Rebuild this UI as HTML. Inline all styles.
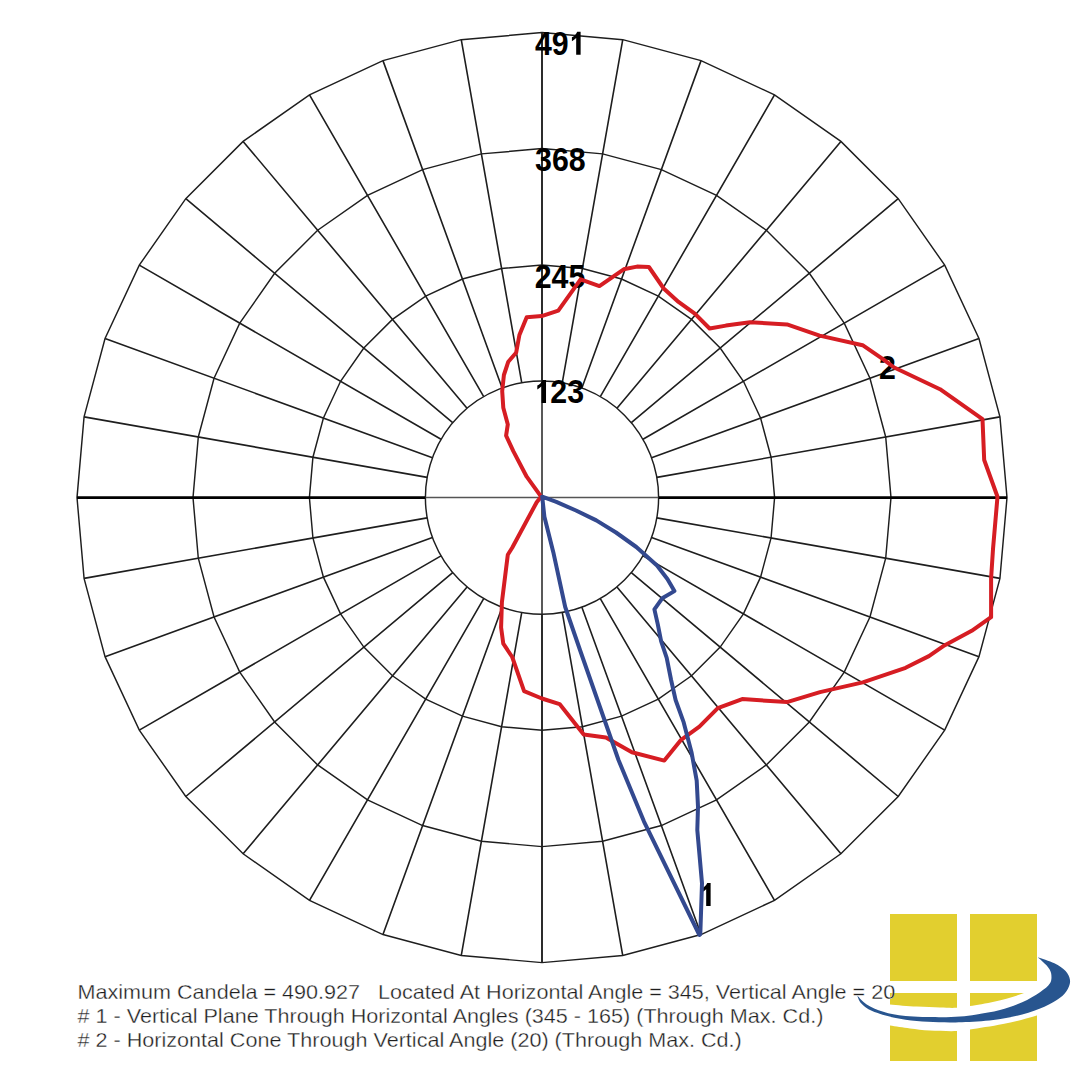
<!DOCTYPE html>
<html><head><meta charset="utf-8"><style>
html,body{margin:0;padding:0;background:#fff;width:1080px;height:1080px;overflow:hidden}
svg{display:block}
</style></head><body>
<svg width="1080" height="1080" viewBox="0 0 1080 1080"><rect width="1080" height="1080" fill="#fff"/><path d="M656.83 477.35L999.94 416.85M651.57 457.72L978.96 338.56M642.98 439.30L944.70 265.10M631.32 422.65L898.21 198.70M616.95 408.28L840.90 141.39M600.30 396.62L774.50 94.90M581.88 388.03L701.04 60.64M562.25 382.77L622.75 39.66M542.00 381.00L542.00 32.60M521.75 382.77L461.25 39.66M502.12 388.03L382.96 60.64M483.70 396.62L309.50 94.90M467.05 408.28L243.10 141.39M452.68 422.65L185.79 198.70M441.02 439.30L139.30 265.10M432.43 457.72L105.04 338.56M427.17 477.35L84.06 416.85M427.17 517.85L84.06 578.35M432.43 537.48L105.04 656.64M441.02 555.90L139.30 730.10M452.68 572.55L185.79 796.50M467.05 586.92L243.10 853.81M483.70 598.58L309.50 900.30M502.12 607.17L382.96 934.56M521.75 612.43L461.25 955.54M542.00 614.20L542.00 962.60M562.25 612.43L622.75 955.54M581.88 607.17L701.04 934.56M600.30 598.58L774.50 900.30M616.95 586.92L840.90 853.81M631.32 572.55L898.21 796.50M642.98 555.90L944.70 730.10M651.57 537.48L978.96 656.64M656.83 517.85L999.94 578.35" stroke="#1e1e1e" stroke-width="1.6" fill="none"/><circle cx="542.0" cy="497.6" r="116.6" stroke="#1e1e1e" stroke-width="1.45" fill="none"/><polygon points="774.60,497.60 771.07,457.21 760.57,418.05 743.44,381.30 720.18,348.09 691.51,319.42 658.30,296.16 621.55,279.03 582.39,268.53 542.00,265.00 501.61,268.53 462.45,279.03 425.70,296.16 392.49,319.42 363.82,348.09 340.56,381.30 323.43,418.05 312.93,457.21 309.40,497.60 312.93,537.99 323.43,577.15 340.56,613.90 363.82,647.11 392.49,675.78 425.70,699.04 462.45,716.17 501.61,726.67 542.00,730.20 582.39,726.67 621.55,716.17 658.30,699.04 691.51,675.78 720.18,647.11 743.44,613.90 760.57,577.15 771.07,537.99" stroke="#1e1e1e" stroke-width="1.45" fill="none"/><polygon points="891.00,497.60 885.70,437.00 869.95,378.23 844.24,323.10 809.35,273.27 766.33,230.25 716.50,195.36 661.37,169.65 602.60,153.90 542.00,148.60 481.40,153.90 422.63,169.65 367.50,195.36 317.67,230.25 274.65,273.27 239.76,323.10 214.05,378.23 198.30,437.00 193.00,497.60 198.30,558.20 214.05,616.97 239.76,672.10 274.65,721.93 317.67,764.95 367.50,799.84 422.63,825.55 481.40,841.30 542.00,846.60 602.60,841.30 661.37,825.55 716.50,799.84 766.33,764.95 809.35,721.93 844.24,672.10 869.95,616.97 885.70,558.20" stroke="#1e1e1e" stroke-width="1.45" fill="none"/><polygon points="1007.00,497.60 999.94,416.85 978.96,338.56 944.70,265.10 898.21,198.70 840.90,141.39 774.50,94.90 701.04,60.64 622.75,39.66 542.00,32.60 461.25,39.66 382.96,60.64 309.50,94.90 243.10,141.39 185.79,198.70 139.30,265.10 105.04,338.56 84.06,416.85 77.00,497.60 84.06,578.35 105.04,656.64 139.30,730.10 185.79,796.50 243.10,853.81 309.50,900.30 382.96,934.56 461.25,955.54 542.00,962.60 622.75,955.54 701.04,934.56 774.50,900.30 840.90,853.81 898.21,796.50 944.70,730.10 978.96,656.64 999.94,578.35" stroke="#1e1e1e" stroke-width="1.45" fill="none"/><path d="M542.0 32.60000000000002L542.0 962.6" stroke="#222" stroke-width="1.5" fill="none"/><path d="M425.4 497.6L658.6 497.6" stroke="#555" stroke-width="1.5" fill="none"/><path d="M77.0 497.6L425.4 497.6M658.6 497.6L1007.0 497.6" stroke="#000" stroke-width="2.9" fill="none"/><g transform="translate(535.00 54.80) scale(0.92 1)"><text x="0" y="0" font-family="Liberation Sans" font-weight="bold" font-size="33" fill="#000">49</text></g><path transform="translate(565.80 54.80) scale(0.014824 -0.016113)" d="M1000 0H700V1040Q560 905 412 846V1095Q510 1131 615 1220Q720 1310 770 1430H1000Z" fill="#000"/><g transform="translate(535.10 171.30) scale(0.92 1)"><text x="0" y="0" font-family="Liberation Sans" font-weight="bold" font-size="33" fill="#000">368</text></g><g transform="translate(534.70 287.90) scale(0.92 1)"><text x="0" y="0" font-family="Liberation Sans" font-weight="bold" font-size="33" fill="#000">245</text></g><path transform="translate(531.20 403.10) scale(0.014824 -0.016113)" d="M1000 0H700V1040Q560 905 412 846V1095Q510 1131 615 1220Q720 1310 770 1430H1000Z" fill="#000"/><g transform="translate(550.30 403.10) scale(0.92 1)"><text x="0" y="0" font-family="Liberation Sans" font-weight="bold" font-size="33" fill="#000">23</text></g><g transform="translate(879.10 378.90) scale(0.92 1)"><text x="0" y="0" font-family="Liberation Sans" font-weight="bold" font-size="33" fill="#000">2</text></g><path transform="translate(695.80 906.00) scale(0.014824 -0.016113)" d="M1000 0H700V1040Q560 905 412 846V1095Q510 1131 615 1220Q720 1310 770 1430H1000Z" fill="#000"/><polygon points="541.1,496.7 526.7,476.7 513.3,451.1 506.1,435.6 507.8,424.4 503.3,407.8 502.2,391.1 503.9,375.0 508.3,361.7 516.1,352.8 519.4,335.0 526.7,317.2 541.7,316.1 558.3,310.6 580.6,279.4 599.4,286.1 623.7,269.3 637.0,266.6 648.9,267.0 663.7,288.5 678.5,301.9 694.8,313.7 709.6,328.5 725.9,325.6 750.0,322.2 787.0,324.4 819.6,335.6 862.6,345.2 883.3,359.3 894.2,367.5 940.0,389.2 982.5,419.2 984.2,460.0 997.5,496.7 993.0,549.2 991.1,578.3 991.1,617.2 971.7,630.8 944.4,645.4 928.9,656.1 905.6,667.8 862.8,682.4 820.0,692.1 787.0,702.1 742.2,699.1 717.8,708.2 699.4,726.6 681.1,739.8 664.3,760.6 631.9,752.2 605.9,737.4 583.7,734.6 559.6,704.1 541.9,698.5 524.1,691.1 512.2,657.0 503.3,643.7 501.1,627.4 501.9,602.2 507.8,554.8 512.2,547.8 536.7,502.2" stroke="#d61d23" stroke-width="4.0" fill="none" stroke-linejoin="round"/><polygon points="542.2,496.7 556.3,501.9 576.0,510.5 596.3,520.4 616.0,532.5 636.3,547.0 657.0,565.6 667.4,578.9 674.4,591.1 662.2,598.3 654.4,609.4 657.8,624.4 661.1,641.1 666.7,657.8 671.1,680.0 675.6,700.0 683.7,722.4 691.5,752.2 696.7,780.7 698.0,806.7 697.3,830.0 702.0,883.2 700.3,934.2 699.4,935.0 644.0,821.6 618.5,760.0 580.0,650.0 565.2,607.0 553.3,552.2 544.4,516.7" stroke="#33498f" stroke-width="4.0" fill="none" stroke-linejoin="round"/><g fill="#e2cf2f"><rect x="890" y="914" width="67" height="67"/><rect x="970" y="914" width="67" height="67"/><rect x="890" y="993" width="67" height="68"/><rect x="970" y="993" width="67" height="68"/></g><path d="M880 1002.8C881.67 1003.07 883.88 1003.77 890.00 1004.40C896.12 1005.03 908.37 1006.07 916.70 1006.60C925.03 1007.13 933.33 1007.40 940.00 1007.60C946.67 1007.80 951.70 1008.05 956.70 1007.80C961.70 1007.55 963.62 1007.15 970.00 1006.10C976.38 1005.05 986.12 1003.63 995.00 1001.50C1003.88 999.37 1015.80 996.22 1023.30 993.30C1030.80 990.38 1035.22 987.05 1040.00 984.00C1044.78 980.95 1050.00 976.50 1052.00 975.00L1060 1006C1056.12 1007.60 1046.20 1012.60 1036.70 1015.60C1027.20 1018.60 1014.12 1021.70 1003.00 1024.00C991.88 1026.30 977.68 1028.22 970.00 1029.40C962.32 1030.58 963.57 1030.90 956.90 1031.10C950.23 1031.30 937.82 1031.03 930.00 1030.60C922.18 1030.17 916.67 1029.33 910.00 1028.50C903.33 1027.67 895.00 1026.43 890.00 1025.60C885.00 1024.77 881.67 1023.85 880.00 1023.50Z" fill="#fff"/><path d="M857.2 995.6C857.85 996.88 858.60 1000.72 861.10 1003.30C863.60 1005.88 866.65 1008.68 872.20 1011.10C877.75 1013.52 886.98 1016.13 894.40 1017.80C901.82 1019.47 909.28 1020.35 916.70 1021.10C924.12 1021.85 931.35 1022.12 938.90 1022.30C946.45 1022.48 952.93 1022.58 962.00 1022.20C971.07 1021.82 983.27 1021.30 993.30 1020.00C1003.33 1018.70 1013.68 1016.62 1022.20 1014.40C1030.72 1012.18 1038.10 1009.47 1044.40 1006.70C1050.70 1003.93 1056.10 1000.77 1060.00 997.80C1063.90 994.83 1066.13 991.87 1067.80 988.90C1069.47 985.93 1070.37 982.97 1070.00 980.00C1069.63 977.03 1068.20 973.88 1065.60 971.10C1063.00 968.32 1059.03 965.62 1054.40 963.30C1049.77 960.98 1040.57 958.22 1037.80 957.20C1039.28 958.60 1044.48 962.92 1046.70 965.60C1048.92 968.28 1050.55 970.35 1051.10 973.30C1051.65 976.25 1051.85 980.15 1050.00 983.30C1048.15 986.45 1044.63 989.05 1040.00 992.20C1035.37 995.35 1028.87 999.23 1022.20 1002.20C1015.53 1005.17 1007.58 1007.97 1000.00 1010.00C992.42 1012.03 983.37 1013.33 976.70 1014.40C970.03 1015.47 966.30 1015.93 960.00 1016.40C953.70 1016.87 947.97 1017.25 938.90 1017.20C929.83 1017.15 914.87 1017.02 905.60 1016.10C896.33 1015.18 889.78 1013.65 883.30 1011.70C876.82 1009.75 871.05 1007.08 866.70 1004.40C862.35 1001.72 858.78 997.07 857.20 995.60Z" fill="#28558f"/><g transform="translate(77.5 0) scale(1.102 1)"><text x="0" y="998.6" font-family="Liberation Sans" font-size="19.6" fill="#1e1e1e" stroke="#fff" stroke-width="0.3" xml:space="preserve">Maximum Candela = 490.927   Located At Horizontal Angle = 345, Vertical Angle = 20</text></g><g transform="translate(77.5 0) scale(1.102 1)"><text x="0" y="1023.0" font-family="Liberation Sans" font-size="19.6" fill="#1e1e1e" stroke="#fff" stroke-width="0.3" xml:space="preserve"># 1 - Vertical Plane Through Horizontal Angles (345 - 165) (Through Max. Cd.)</text></g><g transform="translate(77.5 0) scale(1.102 1)"><text x="0" y="1047.1" font-family="Liberation Sans" font-size="19.6" fill="#1e1e1e" stroke="#fff" stroke-width="0.3" xml:space="preserve"># 2 - Horizontal Cone Through Vertical Angle (20) (Through Max. Cd.)</text></g></svg>
</body></html>
